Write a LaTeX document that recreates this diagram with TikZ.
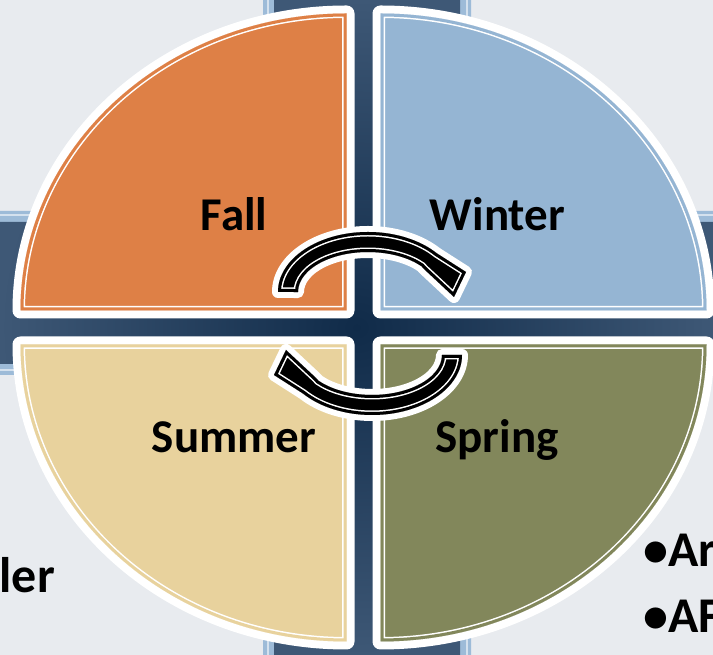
\documentclass[tikz,border=0pt]{standalone}
\usepackage{fontspec}
\setmainfont{Carlito}
\definecolor{bgCol}{RGB}{232,235,239}
\definecolor{fallCol}{RGB}{222,128,70}
\definecolor{winterCol}{RGB}{149,181,211}
\definecolor{summerCol}{RGB}{232,210,157}
\definecolor{springCol}{RGB}{130,135,91}
\definecolor{crossCol}{RGB}{16,43,73}
\definecolor{crossEdge}{RGB}{62,88,118}
\definecolor{crossRim}{RGB}{157,187,216}
\definecolor{rimLine}{RGB}{212,225,238}
\tikzset{
  season/.style={font=\fontsize{47}{56}\selectfont\bfseries,anchor=base,inner sep=0pt},
  side/.style={font=\fontsize{50}{60}\selectfont\bfseries,inner sep=0pt},
  halo/.style={draw=white,line width=16pt,line join=round},
  arrhalo/.style={draw=white,line width=12pt,line join=round},
}
\newcommand{\quadpath}{(0,0) -- (0,297) arc[start angle=90,end angle=0,x radius=326,y radius=297] -- cycle}
\newcommand{\arrpath}{(278,363) arc[start angle=180,end angle=40,x radius=90,y radius=60] -- (466,383) -- (454,358) -- (424,386) -- (421.6,388.7) arc[start angle=40,end angle=180,x radius=70,y radius=40] -- cycle}

\begin{document}
\begin{tikzpicture}[x=1pt,y=1pt]
  \useasboundingbox (0,0) rectangle (713,655);
  \clip (0,0) rectangle (713,655);
  \fill[bgCol] (0,0) rectangle (713,655);
  % cross behind the wheel
  \fill[crossRim] (263,0) rectangle (471,655) (0,280) rectangle (713,444);
  \draw[rimLine,line width=2pt] (267.5,0) -- (267.5,655) (466.5,0) -- (466.5,655)
    (0,439.5) -- (713,439.5) (0,284.5) -- (713,284.5);
  \shade[inner color=crossCol,outer color=crossEdge] (274,0) rectangle (460,655) (0,291) rectangle (713,433);
  % four quarters
  \foreach \sx/\sy/\col in {-1/1/fallCol,1/1/winterCol,-1/-1/summerCol,1/-1/springCol}{
    \begin{scope}[shift={(363.5+17*\sx,327.5+17*\sy)},xscale=\sx,yscale=\sy]
      \draw[halo] \quadpath;
      \fill[\col] \quadpath;
      \begin{scope}
        \clip \quadpath;
        \draw[white,line width=9pt] \quadpath;
        \draw[\col,line width=6pt] \quadpath;
      \end{scope}
    \end{scope}
  }
  % circular arrows
  \foreach \ang in {0,180}{
    \begin{scope}[rotate around={\ang:(370,331.5)}]
      \draw[arrhalo] \arrpath;
      \fill[black] \arrpath;
      \begin{scope}
        \clip \arrpath;
        \draw[white,line width=9pt] \arrpath;
        \draw[black,line width=6pt] \arrpath;
      \end{scope}
    \end{scope}
  }
  \node[season] (fall) at (234,424) {Fall};
  \node[season] (winter) at (497.5,424) {Winter};
  \node[season] (summer) at (234,202) {Summer};
  \node[season] (spring) at (497,202) {Spring};
  \node[side,anchor=base east] (ler) at (55,62) {ler};
  \node[side,anchor=base west] (bulA) at (643,88) {•Ar};
  \node[side,anchor=base west] (bulB) at (643,22) {•AF};
\end{tikzpicture}
\end{document}
